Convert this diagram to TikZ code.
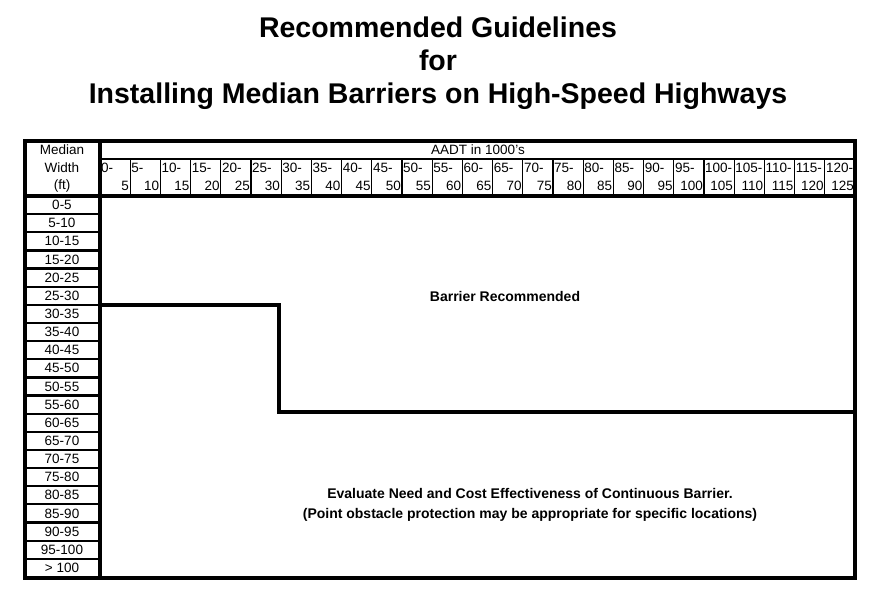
\documentclass[tikz,border=0pt]{standalone}
\usepackage{fontspec}
\setmainfont{Liberation Sans}
\begin{document}
\begin{tikzpicture}[x=1pt,y=-1pt,
  thick line/.style={line width=3.6pt},
  mid line/.style={line width=2.2pt},
  thin line/.style={line width=1.2pt},
  cell/.style={font=\fontsize{13.5}{15}\selectfont, inner sep=0pt},
  ttl/.style={font=\fontsize{28.5}{32}\selectfont\bfseries, inner sep=0pt},
  lbl/.style={font=\fontsize{14}{20}\selectfont\bfseries, inner sep=0pt, align=center}]
\useasboundingbox (0,0) rectangle (876,597);
\node[ttl] (t1) at (438,27) {Recommended Guidelines};
\node[ttl] (t2) at (438,60) {for};
\node[ttl] (t3) at (438,96) {Installing Median Barriers on High-Speed Highways};
% header
\draw[thin line] (100,159) -- (855,159);
\node[cell] (aadt) at (478,150) {AADT in 1000's};
\node[cell] (mw1) at (62,150) {Median};
\node[cell] (mw2) at (62,168) {Width};
\node[cell] (mw3) at (62,186) {(ft)};
\foreach \i in {0,...,24}{
  \pgfmathsetmacro{\xl}{100+\i*30.2}
  \pgfmathsetmacro{\xr}{100+(\i+1)*30.2}
  \pgfmathtruncatemacro{\a}{\i*5}
  \pgfmathtruncatemacro{\b}{\i*5+5}
  \ifnum\i>0 \draw[thin line] (\xl,159) -- (\xl,196);\fi
  \node[cell,anchor=west] (h\i a) at (\xl+1,168) {\a-};
  \node[cell,anchor=east] (h\i b) at (\xr-1,186) {\b};
}
\draw[thick line] (25,196) -- (855,196);
% rows
\foreach \lab [count=\k from 0] in {0-5,5-10,10-15,15-20,20-25,25-30,30-35,35-40,40-45,45-50,50-55,55-60,60-65,65-70,70-75,75-80,80-85,85-90,90-95,95-100,> 100}{
  \pgfmathsetmacro{\yc}{196+(\k+0.5)*18.14}
  \pgfmathsetmacro{\yb}{196+(\k+1)*18.14}
  \node[cell] (r\k) at (62,\yc) {\lab};
  \ifnum\k<20 \draw[mid line] (25,\yb) -- (100,\yb);\fi
}
\draw[thick line] (100,141) -- (100,578);
% step line
\coordinate (s1) at (100,305);
\coordinate (s2) at (279,305);
\coordinate (s3) at (279,412);
\coordinate (s4) at (855,412);
\draw[thick line] (s1) -- (s2) -- (s3) -- (s4);
% outer
\draw[thick line] (25,141) rectangle (855,578);
\node[lbl] (br) at (505,296) {Barrier Recommended};
\node[lbl] (ev) at (530,505) {Evaluate Need and Cost Effectiveness of Continuous Barrier.\\(Point obstacle protection may be appropriate for specific locations)};
\end{tikzpicture}
\end{document}
